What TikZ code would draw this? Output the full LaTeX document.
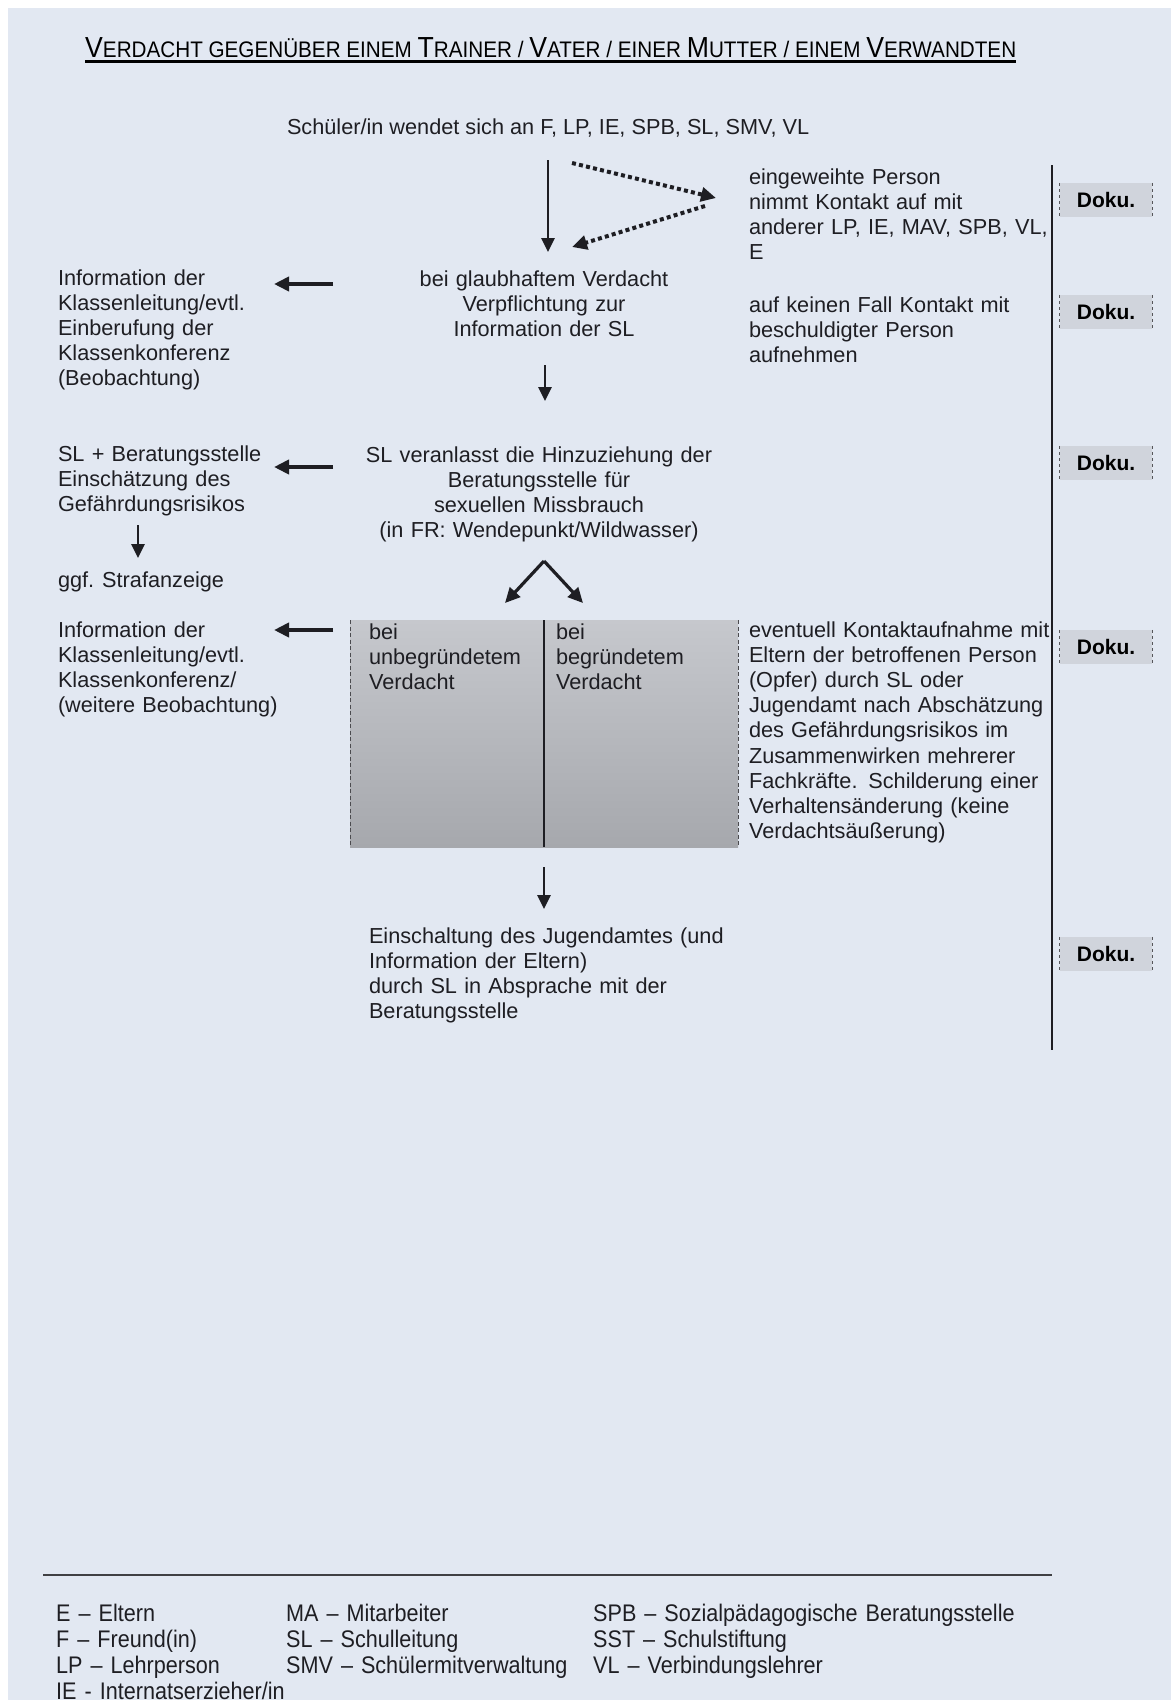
\documentclass[tikz,border=0pt]{standalone}
\usepackage{fontspec}
\usepackage{graphicx}
\setmainfont{Liberation Sans}
\newfontfamily\narrowf[FakeStretch=0.9]{Liberation Sans}
\usetikzlibrary{arrows.meta}
\definecolor{bg}{RGB}{226,232,242}
\definecolor{ink}{RGB}{30,30,35}
\definecolor{dokufill}{RGB}{208,212,220}
\definecolor{boxtop}{RGB}{198,200,205}
\definecolor{boxbot}{RGB}{166,168,173}
\newcommand{\Tb}[1]{{\fontsize{29}{30}\selectfont #1}}
\newcommand{\Ts}[1]{{\fontsize{22.5}{30}\selectfont #1}}
\begin{document}
\begin{tikzpicture}[x=1pt,y=-1pt,
  txt/.style={font=\fontsize{21.7}{25.2}\selectfont, text=ink, inner sep=0pt, outer sep=0pt, anchor=base west, align=left},
  blk/.style={txt, text width=#1},
  cblk/.style={font=\fontsize{21.7}{25.2}\selectfont, text=ink, inner sep=0pt, anchor=base, align=center, text width=#1},
  leg/.style={font=\narrowf\fontsize{24}{26}\selectfont, text=ink, inner sep=0pt, anchor=base west, align=left, text width=#1},
  dokubox/.style={font=\bfseries\fontsize{21}{24}\selectfont, text=black, fill=dokufill, minimum width=92pt, minimum height=34pt, inner sep=0pt},
  solidarr/.style={draw=ink, line width=2.8pt, -{Triangle[length=14pt,width=13pt]}},
  leftarr/.style={draw=ink, line width=4.2pt, -{Triangle[length=15pt,width=14pt]}},
  dotarr/.style={draw=ink, line width=4pt, dash pattern=on 4pt off 3.2pt, -{Triangle[length=15pt,width=14pt]}},
  varr/.style={draw=ink, line width=3.2pt, -{Triangle[length=15pt,width=14pt]}}
]
\useasboundingbox (0,0) rectangle (1171,1700);
\fill[white] (0,0) rectangle (1171,1700);
\fill[bg] (8,8) rectangle (1171,1700);

% title
\node[inner sep=0pt, anchor=base west, text=black] (title) at (85,57)
  {\resizebox{931pt}{\height}{\Tb{V}\Ts{ERDACHT GEGENÜBER EINEM }\Tb{T}\Ts{RAINER / }\Tb{V}\Ts{ATER / EINER }\Tb{M}\Ts{UTTER / EINEM }\Tb{V}\Ts{ERWANDTEN}}};
\draw[black, line width=2.6pt] ([yshift=-4.5pt]title.base west) -- ([yshift=-4.5pt]title.base east);

% gray box
\shade[top color=boxtop, bottom color=boxbot] (350,620) rectangle (738,847);
\coordinate (gbtl) at (350,620);
\coordinate (gbbl) at (350,847);
\coordinate (gbtr) at (738,620);
\coordinate (gbbr) at (738,847);
\coordinate (gbtm) at (544,620);
\coordinate (gbbm) at (544,847);
\draw[ink!80, line width=1pt, dash pattern=on 4pt off 2.5pt] (gbtl) -- (gbbl);
\draw[ink!80, line width=1pt, dash pattern=on 4pt off 2.5pt] (gbtr) -- (gbbr);
\draw[ink, line width=1.2pt] (gbtm) -- (gbbm);

% texts
\node[txt] (start) at (287,134) {Schüler/in wendet sich an F, LP, IE, SPB, SL, SMV, VL};
\node[blk=320pt] (eing) at (749,184) {eingeweihte Person\\nimmt Kontakt auf mit\\anderer LP, IE, MAV, SPB, VL,\\E};
\node[cblk=380pt] (glaub) at (544,286) {bei glaubhaftem Verdacht\\Verpflichtung zur\\Information der SL};
\node[blk=260pt] (info1) at (58,285) {Information der\\Klassenleitung/evtl.\\Einberufung der\\Klassenkonferenz\\(Beobachtung)};
\node[blk=320pt] (keinen) at (749,312) {auf keinen Fall Kontakt mit\\beschuldigter Person\\aufnehmen};
\node[cblk=420pt] (slver) at (539,462) {SL veranlasst die Hinzuziehung der\\Beratungsstelle für\\sexuellen Missbrauch\\(in FR: Wendepunkt/Wildwasser)};
\node[blk=260pt] (slber) at (58,461) {SL + Beratungsstelle\\Einschätzung des\\Gefährdungsrisikos};
\node[txt] (straf) at (58,587) {ggf. Strafanzeige};
\node[blk=170pt] (unbeg) at (369,639) {bei\\unbegründetem\\Verdacht};
\node[blk=170pt] (beg) at (556,639) {bei\\begründetem\\Verdacht};
\node[blk=270pt] (info2) at (58,637) {Information der\\Klassenleitung/evtl.\\Klassenkonferenz/\\(weitere Beobachtung)};
\node[blk=320pt] (event) at (749,637) {eventuell Kontaktaufnahme mit\\Eltern der betroffenen Person\\(Opfer) durch SL oder\\Jugendamt nach Abschätzung\\des Gefährdungsrisikos im\\Zusammenwirken mehrerer\\Fachkräfte. Schilderung einer\\Verhaltensänderung (keine\\Verdachtsäußerung)};
\node[blk=380pt] (einsch) at (369,943) {Einschaltung des Jugendamtes (und\\Information der Eltern)\\durch SL in Absprache mit der\\Beratungsstelle};

% Doku boxes
\foreach \n/\yy in {d1/200, d2/312, d3/463, d4/647, d5/954} {
  \node[dokubox] (\n) at (1106,\yy) {Doku.};
  \draw[ink!75, line width=1pt, dash pattern=on 3pt off 3pt] (\n.north west) -- (\n.south west);
  \draw[ink!75, line width=1pt, dash pattern=on 3pt off 3pt] (\n.north east) -- (\n.south east);
}

% right vertical line
\coordinate (vlt) at (1052,165);
\coordinate (vlb) at (1052,1050);
\draw[ink, line width=1.3pt] (vlt) -- (vlb);

% arrows
\coordinate (a1s) at (548,160);
\coordinate (a1e) at (548,252);
\draw[solidarr] (a1s) -- (a1e);
\coordinate (d1s) at (572,163);
\coordinate (d1e) at (716,198);
\draw[dotarr] (d1s) -- (d1e);
\coordinate (d2s) at (705,206);
\coordinate (d2e) at (572,247);
\draw[dotarr] (d2s) -- (d2e);

\coordinate (l1s) at (333,284);
\coordinate (l1e) at (274,284);
\draw[leftarr] (l1s) -- (l1e);
\coordinate (a2s) at (545,365);
\coordinate (a2e) at (545,401);
\draw[solidarr] (a2s) -- (a2e);
\coordinate (l2s) at (333,467);
\coordinate (l2e) at (274,467);
\draw[leftarr] (l2s) -- (l2e);
\coordinate (a3s) at (138,525);
\coordinate (a3e) at (138,558);
\draw[solidarr] (a3s) -- (a3e);
\coordinate (vap) at (544,561);
\coordinate (vl) at (505,603);
\coordinate (vr) at (583,603);
\draw[varr] (vap) -- (vl);
\draw[varr] (vap) -- (vr);
\coordinate (l3s) at (333,630);
\coordinate (l3e) at (274,630);
\draw[leftarr] (l3s) -- (l3e);
\coordinate (a4s) at (544,867);
\coordinate (a4e) at (544,909);
\draw[solidarr] (a4s) -- (a4e);

% bottom rule and legend
\coordinate (rl) at (43,1575);
\coordinate (rr) at (1052,1575);
\draw[ink!85, line width=1.6pt] (rl) -- (rr);
\node[leg=280pt] (leg1) at (56,1621) {E – Eltern\\F – Freund(in)\\LP – Lehrperson\\IE - Internatserzieher/in};
\node[leg=300pt] (leg2) at (286,1621) {MA – Mitarbeiter\\SL – Schulleitung\\SMV – Schülermitverwaltung};
\node[leg=520pt] (leg3) at (593,1621) {SPB – Sozialpädagogische Beratungsstelle\\SST – Schulstiftung\\VL – Verbindungslehrer};
\end{tikzpicture}
\end{document}
